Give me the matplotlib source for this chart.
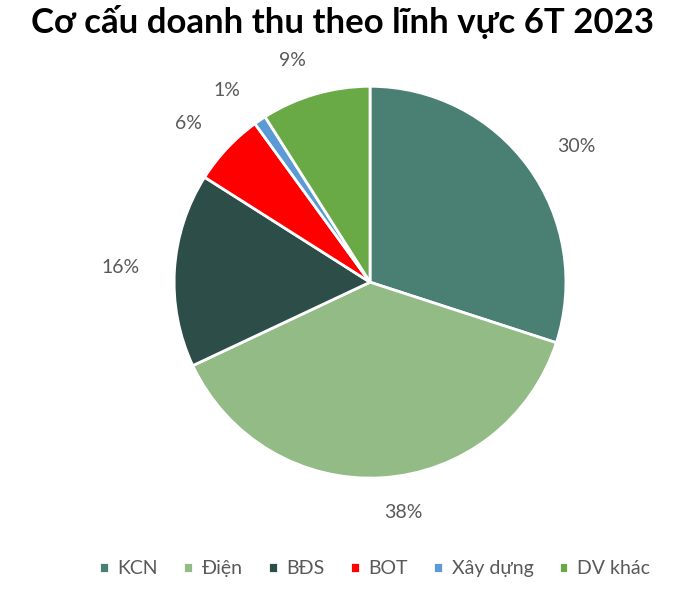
import matplotlib
matplotlib.use("Agg")
import matplotlib.pyplot as plt

# data
categories = ['KCN', 'Điện', 'BĐS', 'BOT', 'Xây dựng', 'DV khác']
shares = [30, 38, 16, 6, 1, 9]
colors = ['#4a7f74', '#93bb86', '#2d4d49', '#ff0000', '#5b9bd5', '#6aaa46']
title = 'Cơ cấu doanh thu theo lĩnh vực 6T 2023'

plt.rcParams['font.family'] = ['Lato', 'DejaVu Sans']

fig = plt.figure(figsize=(7, 5.91), dpi=100)
ax = fig.add_axes([0.2486, 0.191, 0.56, 0.663])

wedges, texts = ax.pie(shares, colors=colors, startangle=90, counterclock=False,
                       labels=[f'{v}%' for v in shares], labeldistance=1.18,
                       wedgeprops=dict(edgecolor='white', linewidth=2),
                       textprops=dict(color='#595959', fontsize=14))
ax.set_xlim(-1, 1)
ax.set_ylim(-1, 1)
ax.set_aspect('equal')

fig.text(0.489, 0.962, title, ha='center', va='center', fontsize=25,
         fontweight='bold', color='black')

leg = fig.legend(wedges, categories, loc='center', bbox_to_anchor=(0.535, 0.038),
                 ncol=6, frameon=False, fontsize=14, handlelength=0.5,
                 handleheight=0.5, handletextpad=0.45, columnspacing=1.3)
for t in leg.get_texts():
    t.set_color('#595959')

fig.savefig('out.png', dpi=100)
